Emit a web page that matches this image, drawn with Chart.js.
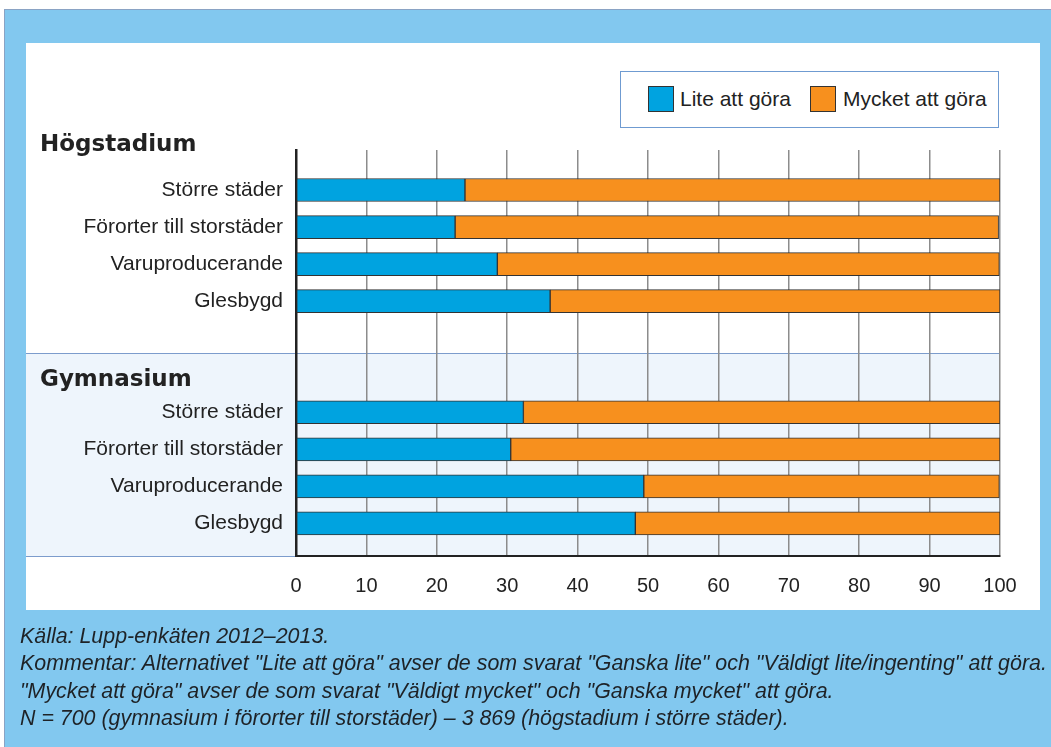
<!DOCTYPE html>
<html lang="sv">
<head>
<meta charset="utf-8">
<title>Lite eller mycket att göra</title>
<script src="https://cdn.jsdelivr.net/npm/chart.js@4"></script>
<style>
    html, body { margin: 0; padding: 0; background: #fff; }
    body { width: 1051px; height: 747px; position: relative; overflow: hidden; font-family: 'Liberation Sans', Arial, sans-serif; }
    #frame { position: absolute; left: 4px; top: 9px; right: 0; bottom: 0; background: #82c8ef; border-left: 1px solid #8aa3c4; border-top: 1px solid #8aa3c4; }
    #panel { position: absolute; left: 26px; top: 43px; width: 1014px; height: 567px; background: #fff; }
    #chart { position: absolute; left: 0; top: 0; }
    #legend { position: absolute; left: 620px; top: 71px; width: 377px; height: 55px; border: 1px solid #6f9bd1; background: #fff; }
    .swatch { position: absolute; top: 14px; width: 24px; height: 24px; border: 1px solid #333; }
    .ltext { position: absolute; top: 16px; font-size: 21px; color: #222; line-height: 21px; }
    #footer { position: absolute; left: 20px; top: 623px; font-style: italic; font-size: 21.4px; line-height: 27.3px; color: #1e2226; white-space: nowrap; }
</style>
</head>
<body>
<div id="frame"></div>
<div id="panel"></div>
<canvas id="chart" width="1051" height="747"></canvas>
<div id="legend"></div>
<div id="footer"></div>

<script>
// Data (percent)
const groups = ['Högstadium', 'Gymnasium'];
const categories = ['Större städer', 'Förorter till storstäder', 'Varuproducerande', 'Glesbygd'];
const seriesNames = ['Lite att göra', 'Mycket att göra'];
const liteHog = [24.0, 22.6, 28.6, 36.1];
const mycketHog = [76.0, 77.2, 71.3, 63.9];
const liteGym = [32.3, 30.5, 49.4, 48.2];
const mycketGym = [67.7, 69.5, 50.5, 51.8];
const xTicks = [0, 10, 20, 30, 40, 50, 60, 70, 80, 90, 100];
const footerLines = [
    'Källa: Lupp-enkäten 2012–2013.',
    'Kommentar: Alternativet "Lite att göra" avser de som svarat "Ganska lite" och "Väldigt lite/ingenting" att göra.',
    '"Mycket att göra" avser de som svarat "Väldigt mycket" och "Ganska mycket" att göra.',
    'N = 700 (gymnasium i förorter till storstäder) – 3 869 (högstadium i större städer).'
];

const colors = ['#00a3e0', '#f7901e'];
const FONT = "'Liberation Sans', Arial, sans-serif";

// each group takes 4 rows, then 2 empty rows before the next group
const ROWS_PER_GROUP = 6;
const rowLabels = {};
groups.forEach((g, gi) => categories.forEach((c, ci) => { rowLabels[gi * ROWS_PER_GROUP + ci] = c; }));

function toPoints(groupValues) {
    const pts = [];
    groupValues.forEach((vals, gi) => vals.forEach((v, ci) => pts.push({ x: v, y: gi * ROWS_PER_GROUP + ci })));
    return pts;
}

// legend + footer as real text
const legend = document.getElementById('legend');
legend.innerHTML = `
    <div class="swatch" style="left:27px;background:${colors[0]}"></div>
    <div class="ltext" style="left:59px">${seriesNames[0]}</div>
    <div class="swatch" style="left:189px;background:${colors[1]}"></div>
    <div class="ltext" style="left:222px">${seriesNames[1]}</div>`;
document.getElementById('footer').innerHTML = footerLines.map(l => `<div>${l.replace(/"/g, '&quot;')}</div>`).join('');

// band behind Gymnasium group + bold group headings
const sectionPlugin = {
    id: 'sections',
    beforeDraw(chart) {
        const { ctx, chartArea, scales: { y } } = chart;
        const top = y.getPixelForValue(ROWS_PER_GROUP - 1.6);
        ctx.save();
        ctx.fillStyle = '#eef5fc';
        ctx.fillRect(26, top, chartArea.right - 26, chartArea.bottom - top);
        ctx.strokeStyle = '#7c9ccc';
        ctx.lineWidth = 1;
        ctx.beginPath();
        ctx.moveTo(26, Math.round(top) + 0.5);
        ctx.lineTo(chartArea.right, Math.round(top) + 0.5);
        ctx.moveTo(26, Math.round(chartArea.bottom) + 0.5);
        ctx.lineTo(chartArea.left, Math.round(chartArea.bottom) + 0.5);
        ctx.stroke();
        ctx.restore();
    },
    afterDraw(chart) {
        const { ctx, chartArea, scales: { y } } = chart;
        const gymTop = y.getPixelForValue(ROWS_PER_GROUP - 1.6);
        ctx.save();
        ctx.font = "bold 23px 'DejaVu Sans', Verdana, sans-serif";
        ctx.fillStyle = '#222';
        ctx.textBaseline = 'alphabetic';
        ctx.fillText(groups[0], 40, chartArea.top + 1);
        ctx.fillText(groups[1], 40, gymTop + 33);
        ctx.restore();
    }
};

const chart = new Chart(document.getElementById('chart'), {
    type: 'bar',
    data: {
        datasets: [{
            label: seriesNames[0],
            data: toPoints([liteHog, liteGym]),
            backgroundColor: colors[0]
        }, {
            label: seriesNames[1],
            data: toPoints([mycketHog, mycketGym]),
            backgroundColor: colors[1]
        }]
    },
    options: {
        responsive: false,
        animation: false,
        devicePixelRatio: 1,
        indexAxis: 'y',
        layout: { padding: { top: 150, right: 51, left: 0, bottom: 0 } },
        datasets: {
            bar: { barThickness: 23, borderColor: '#333', borderWidth: 1, borderSkipped: false }
        },
        plugins: {
            legend: { display: false },
            tooltip: { enabled: false }
        },
        scales: {
            x: {
                type: 'linear',
                stacked: true,
                min: 0,
                max: 100,
                afterBuildTicks: axis => { axis.ticks = xTicks.map(v => ({ value: v })); },
                afterFit: axis => { axis.height = 191; },
                grid: { color: '#8c8c8c', lineWidth: 1.5, drawTicks: false },
                border: { color: '#222', width: 2 },
                ticks: { padding: 18, color: '#222', font: { family: FONT, size: 20 } }
            },
            y: {
                type: 'linear',
                stacked: true,
                reverse: true,
                offset: false,
                min: -1.08,
                max: 9.88,
                z: 1,
                afterBuildTicks: axis => { axis.ticks = Object.keys(rowLabels).map(k => ({ value: +k })); },
                afterFit: axis => { axis.width = 296; },
                grid: { display: false, drawTicks: false, offset: false },
                border: { color: '#222', width: 2.5 },
                ticks: {
                    padding: 13,
                    color: '#222',
                    font: { family: FONT, size: 21 },
                    callback: v => rowLabels[v] || ''
                }
            }
        }
    },
    plugins: [sectionPlugin]
});
</script>
</body>
</html>
